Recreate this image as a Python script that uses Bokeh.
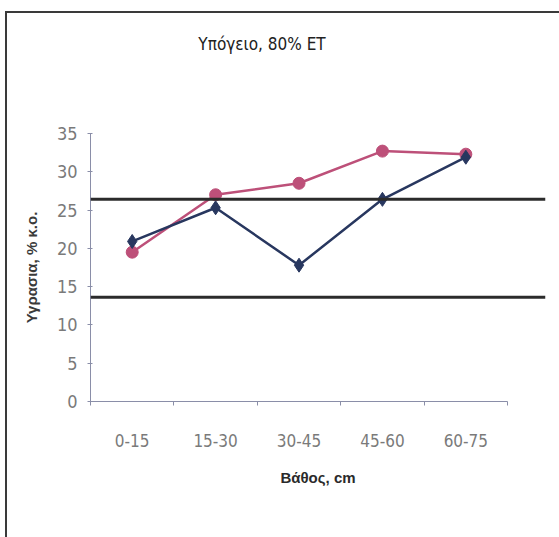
from bokeh.plotting import figure
from bokeh.models import Range1d, FixedTicker, Span, Div
from bokeh.layouts import column
from bokeh.embed import file_html
from bokeh.resources import INLINE

# Soil moisture by depth layer
depths = ["0-15", "15-30", "30-45", "45-60", "60-75"]
series_a = [20.9, 25.3, 17.8, 26.4, 31.9]   # dark blue diamonds
series_b = [19.5, 27.0, 28.5, 32.7, 32.3]   # pink circles
upper_limit = 26.4
lower_limit = 13.6
y_ticks = [0, 5, 10, 15, 20, 25, 30, 35]
title_text = "Υπόγειο, 80% ET"

xs = [i + 0.5 for i in range(len(depths))]

NARROW = "'DejaVu Sans Condensed', 'Roboto', sans-serif"

# heading block sitting above the figure
heading = Div(
    text=title_text, width=510, height=62, margin=0,
    styles={
        "font-family": NARROW, "font-size": "17px", "color": "#222222",
        "text-align": "center", "line-height": "62px", "width": "510px",
    },
)

p = figure(
    width=552, height=462, margin=0,
    output_backend="svg", toolbar_location=None,
    x_range=Range1d(0, 5.455), y_range=Range1d(0, 35),
    min_border_left=83, min_border_right=14,
    min_border_top=58, min_border_bottom=136,
)
p.outline_line_color = None
p.xgrid.visible = False
p.ygrid.visible = False
p.background_fill_color = "white"
p.border_fill_color = "white"

# x axis: labels centred in each category, tick marks on boundaries
xa = p.xaxis[0]
xa.ticker = FixedTicker(ticks=xs, minor_ticks=list(range(len(depths) + 1)))
xa.major_label_overrides = {x: d for x, d in zip(xs, depths)}
xa.bounds = (0, len(depths))
xa.major_tick_out = 0
xa.major_tick_in = 0
xa.minor_tick_out = 4
xa.minor_tick_in = 0
xa.minor_tick_line_color = "#8a8ea8"
xa.axis_line_color = "#8a8ea8"
xa.major_label_standoff = 28
xa.major_label_text_font = NARROW
xa.major_label_text_font_size = "17px"
xa.major_label_text_color = "#7a7a7a"
xa.axis_label = "Βάθος, cm"
xa.axis_label_text_font = "Liberation Sans"
xa.axis_label_text_font_style = "bold"
xa.axis_label_text_font_size = "15px"
xa.axis_label_text_color = "#2a2a2a"
xa.axis_label_standoff = 19

ya = p.yaxis[0]
ya.ticker = FixedTicker(ticks=y_ticks)
ya.minor_tick_line_color = None
ya.major_tick_out = 3
ya.major_tick_in = 2
ya.major_tick_line_color = "#8a8ea8"
ya.axis_line_color = "#8a8ea8"
ya.major_label_standoff = 10
ya.major_label_text_font = NARROW
ya.major_label_text_font_size = "18px"
ya.major_label_text_color = "#7a7a7a"
ya.axis_label = "Υγρασια, % κ.ο."
ya.axis_label_text_font = "Liberation Sans"
ya.axis_label_text_font_style = "bold"
ya.axis_label_text_font_size = "15px"
ya.axis_label_text_color = "#3a3a3a"
ya.axis_label_standoff = 14

# reference levels
for lvl in (upper_limit, lower_limit):
    p.add_layout(Span(location=lvl, dimension="width",
                      line_color="#2b2b2b", line_width=3))

blue = "#28375f"
pink = "#bd5079"
p.line(xs, series_b, line_color=pink, line_width=2.5)
p.scatter(xs, series_b, marker="circle", size=12,
          fill_color=pink, line_color=pink)
p.line(xs, series_a, line_color=blue, line_width=2.5)
p.scatter(xs, series_a, marker="diamond", size=14,
          fill_color=blue, line_color=blue)

page = column(heading, p, spacing=0)
page.styles = {
    "margin-left": "5px", "margin-top": "11px",
    "border-left": "2px solid #3a3a3a", "border-top": "2px solid #3a3a3a",
    "background-color": "white",
}

open("out.html", "w").write(file_html(page, INLINE))
